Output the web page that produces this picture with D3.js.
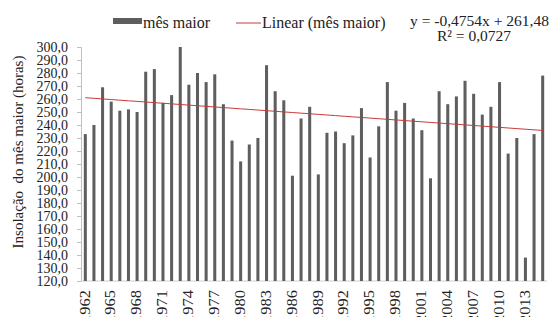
<!DOCTYPE html>
<html>
<head>
<meta charset="utf-8">
<script src="https://cdn.jsdelivr.net/npm/d3@7"></script>
<style>
  body { margin: 0; background: #fff; }
  text { font-family: 'Liberation Serif', 'Times New Roman', serif; }
</style>
</head>
<body>
<div id="chart"></div>
<script>

// anos e insolação do mês maior (horas)
var years = [1962, 1963, 1964, 1965, 1966, 1967, 1968, 1969, 1970, 1971,
             1972, 1973, 1974, 1975, 1976, 1977, 1978, 1979, 1980, 1981,
             1982, 1983, 1984, 1985, 1986, 1987, 1988, 1989, 1990, 1991,
             1992, 1993, 1994, 1995, 1996, 1997, 1998, 1999, 2000, 2001,
             2002, 2003, 2004, 2005, 2006, 2007, 2008, 2009, 2010, 2011,
             2012, 2013, 2014, 2015];

var values = [233, 240, 269, 258, 251, 252, 250, 281, 283, 257,
              263, 300, 271, 280, 273, 279, 256, 228, 212, 225,
              230, 286, 266, 259, 201, 245, 254, 202, 234, 235,
              226, 232, 253, 215, 239, 273, 251, 257, 245, 236,
              199, 266, 256, 262, 274, 264, 248, 254, 273, 218,
              230, 138, 233, 278];

var xLabels = [1962, 1965, 1968, 1971, 1974, 1977, 1980, 1983, 1986, 1989,
               1992, 1995, 1998, 2001, 2004, 2007, 2010, 2013];

var yTicks = [120, 130, 140, 150, 160, 170, 180, 190, 200, 210,
              220, 230, 240, 250, 260, 270, 280, 290, 300];

// linha de tendência (Excel)
var slope = -0.4754,
    intercept = 261.48,
    r2 = 0.0727;

var width = 552,
    height = 317,
    serif = "'Liberation Serif', 'Times New Roman', serif";

var svg = d3.select("#chart").append("svg")
    .attr("width", width)
    .attr("height", height);

var x = d3.scaleBand()
    .domain(years)
    .range([81, 547])
    .paddingInner(0.65)
    .paddingOuter(0.325);

var y = d3.scaleLinear()
    .domain([120, 300])
    .range([281, 47]);

var comma = function(v){ return String(v).replace(".", ","); };
var fmt = function(v){ return d3.format(".1f")(v).replace(".", ","); };

// eixo y
var yAxis = svg.append("g")
    .attr("transform", "translate(81,0)")
    .call(d3.axisLeft(y).tickValues(yTicks).tickSize(4).tickPadding(9).tickFormat(fmt));

yAxis.attr("font-family", null);
yAxis.select(".domain").attr("stroke", "#bfbfbf");
yAxis.selectAll(".tick line").attr("stroke", "#bfbfbf");
yAxis.selectAll("text")
    .attr("fill", "#222")
    .style("font-family", serif)
    .style("font-size", "14px");

// linha base
svg.append("line")
    .attr("x1", 81).attr("x2", 547)
    .attr("y1", y(120)).attr("y2", y(120))
    .attr("stroke", "#d0d0d0");

// barras
svg.selectAll(".bar")
    .data(values)
  .enter().append("rect")
    .attr("class", "bar")
    .attr("x", function(d, i){ return x(years[i]); })
    .attr("width", x.bandwidth())
    .attr("y", function(d){ return y(d); })
    .attr("height", function(d){ return y(120) - y(d); })
    .attr("fill", "#5e5e5e");

// tendência
var line = d3.line()
    .x(function(d, i){ return x(d) + x.bandwidth() / 2; })
    .y(function(d, i){ return y(slope * (i + 1) + intercept); });

svg.append("path")
    .datum(years)
    .attr("d", line)
    .attr("fill", "none")
    .attr("stroke", "#c83a3a")
    .attr("stroke-width", 1);

// rótulos x
svg.selectAll(".xlab")
    .data(xLabels)
  .enter().append("text")
    .attr("class", "xlab")
    .attr("transform", function(d){
      return "translate(" + (x(d) + x.bandwidth() / 2 - 1) + ",290) rotate(-90) scale(1.1,1)";
    })
    .attr("dy", "0.35em")
    .attr("text-anchor", "end")
    .attr("fill", "#222")
    .style("font-family", serif)
    .style("font-size", "15px")
    .text(function(d){ return d; });

// título y
svg.append("text")
    .attr("transform", "translate(18,152) rotate(-90)")
    .attr("dy", "0.35em")
    .attr("text-anchor", "middle")
    .attr("fill", "#222")
    .style("font-family", serif)
    .style("font-size", "15px")
    .style("white-space", "pre")
    .text("Insolação  do mês maior (horas)");

// legenda
svg.append("rect")
    .attr("x", 113).attr("y", 18)
    .attr("width", 29).attr("height", 6)
    .attr("fill", "#5e5e5e");

svg.append("text")
    .attr("x", 143).attr("y", 28)
    .attr("fill", "#222")
    .style("font-family", serif)
    .style("font-size", "16px")
    .text("mês maior");

svg.append("line")
    .attr("x1", 236).attr("x2", 261)
    .attr("y1", 23).attr("y2", 23)
    .attr("stroke", "#c83a3a")
    .attr("stroke-width", 1);

svg.append("text")
    .attr("x", 262).attr("y", 28)
    .attr("fill", "#222")
    .style("font-family", serif)
    .style("font-size", "16px")
    .text("Linear (mês maior)");

svg.append("text")
    .attr("x", 549).attr("y", 26)
    .attr("text-anchor", "end")
    .attr("fill", "#222")
    .style("font-family", serif)
    .style("font-size", "15.5px")
    .text("y = " + comma(slope) + "x + " + comma(intercept));

svg.append("text")
    .attr("x", 474).attr("y", 41)
    .attr("text-anchor", "middle")
    .attr("fill", "#222")
    .style("font-family", serif)
    .style("font-size", "15.5px")
    .text("R² = " + comma(r2));

</script>
</body>
</html>
